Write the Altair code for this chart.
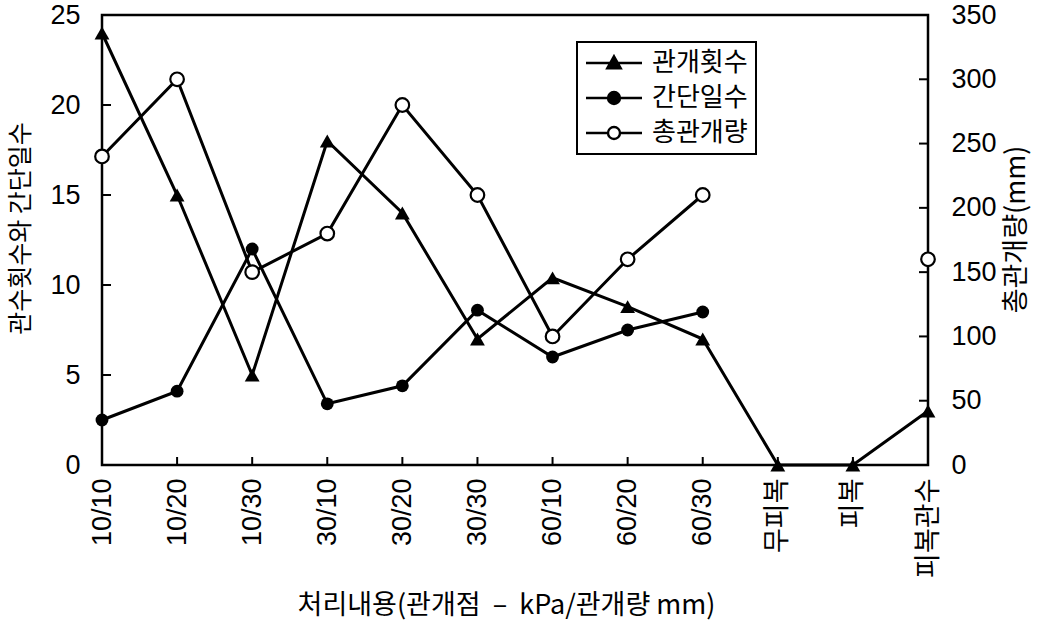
import altair as alt
import pandas as pd

# ---------------- data ----------------
categories = ["10/10", "10/20", "10/30", "30/10", "30/20", "30/30",
              "60/10", "60/20", "60/30", "무피복", "피복", "피복관수"]
irrigation_count = [24, 15, 5, 18, 14, 7, 10.4, 8.8, 7, 0, 0, 3]          # 관개횟수
interval_days = [2.5, 4.1, 12, 3.4, 4.4, 8.6, 6.0, 7.5, 8.5, None, None, None]  # 간단일수
total_irrigation = [240, 300, 150, 180, 280, 210, 100, 160, 210, None, None, 160]  # 총관개량 (mm)
total_segment = ["a", "a", "a", "a", "a", "a", "a", "a", "a", "x", "x", "b"]
series_names = ["관개횟수", "간단일수", "총관개량"]
left_values = [0, 5, 10, 15, 20, 25]
right_values = [0, 50, 100, 150, 200, 250, 300, 350]
left_ticks = [5, 10, 15, 20]
right_ticks = [50, 100, 150, 200, 250, 300]

rows = []
for c, v in zip(categories, irrigation_count):
    rows.append({"cat": c, "series": series_names[0], "value": v})
for c, v in zip(categories, interval_days):
    if v is not None:
        rows.append({"cat": c, "series": series_names[1], "value": v})
df_left = pd.DataFrame(rows)

trows = []
for c, v, s in zip(categories, total_irrigation, total_segment):
    if v is not None:
        trows.append({"cat": c, "series": series_names[2], "value": v, "seg": s})
df_total = pd.DataFrame(trows)

# ---------------- style ----------------
W, H = 826, 450
NUM_FONT = "Liberation Sans, Noto Sans CJK KR"
KR_FONT = "Noto Sans CJK KR"
NB = "\u00a0"

x_axis = alt.Axis(
    labelAngle=270, labelAlign="right", labelBaseline="middle", labelPadding=13,
    labelFont=NUM_FONT, labelFontSize=27, labelColor="black",
    ticks=False, tickSize=0, domain=False, grid=False,
    title="처리내용(관개점" + NB * 2 + "–" + NB * 2 + "kPa/관개량" + NB + "mm)",
    titleFont=KR_FONT, titleFontSize=27,
    titleFontWeight="normal", titleColor="black", titleX=404, titleY=140,
    titleAlign="center", titleBaseline="middle",
)
x_enc = alt.X("cat:N", sort=categories,
              scale=alt.Scale(type="point", domain=categories, padding=0),
              axis=x_axis)

left_scale = alt.Scale(domain=[0, 25], nice=False, zero=True)
right_scale = alt.Scale(domain=[0, 350], nice=False, zero=True)

left_axis = alt.Axis(
    values=left_values, labelFont=NUM_FONT, labelFontSize=27, labelColor="black",
    labelPadding=22, ticks=False, tickSize=0, domain=False, grid=False,
    title="관수횟수와 간단일수", titleFont=KR_FONT, titleFontSize=25,
    titleFontWeight="normal", titleColor="black", titleAngle=270,
    titleX=-82, titleY=213, titleAlign="center", titleBaseline="middle",
)
right_axis = alt.Axis(
    orient="right", values=right_values, labelFont=NUM_FONT, labelFontSize=27,
    labelColor="black", labelPadding=23, ticks=False, tickSize=0, domain=False,
    grid=False, title="총관개량(mm)", titleFont=KR_FONT, titleFontSize=27,
    titleFontWeight="normal", titleColor="black", titleAngle=270,
    titleX=88, titleY=214, titleAlign="center", titleBaseline="middle",
)

LW = 3

# ---------------- left (관개횟수, 간단일수) ----------------
base_left = alt.Chart(df_left)
line_left = base_left.mark_line(color="black", strokeWidth=LW).encode(
    x=x_enc, y=alt.Y("value:Q", scale=left_scale, axis=left_axis),
    detail="series:N",
)
tri_pts = base_left.transform_filter(
    alt.datum.series == series_names[0]
).mark_point(shape="triangle-up", filled=True, size=220, color="black", opacity=1).encode(
    x=x_enc, y=alt.Y("value:Q", scale=left_scale, axis=left_axis),
)
dot_pts = base_left.transform_filter(
    alt.datum.series == series_names[1]
).mark_point(shape="circle", filled=True, size=165, color="black", opacity=1).encode(
    x=x_enc, y=alt.Y("value:Q", scale=left_scale, axis=left_axis),
)
left_tick_rules = alt.Chart(pd.DataFrame({"t": left_ticks})).mark_rule(
    color="black", strokeWidth=2
).encode(
    y=alt.Y("t:Q", scale=left_scale, axis=left_axis),
    x=alt.value(0), x2=alt.value(9),
)
bottom_tick_rules = alt.Chart(pd.DataFrame({"cat": categories[1:-1]})).mark_rule(
    color="black", strokeWidth=2
).encode(
    x=x_enc, y=alt.value(H), y2=alt.value(H - 8),
)
left = alt.layer(line_left, tri_pts, dot_pts, left_tick_rules, bottom_tick_rules)

# ---------------- right (총관개량) ----------------
base_total = alt.Chart(df_total)
line_total = base_total.transform_filter(alt.datum.seg == "a").mark_line(
    color="black", strokeWidth=LW
).encode(
    x=x_enc, y=alt.Y("value:Q", scale=right_scale, axis=right_axis),
)
open_pts = base_total.mark_point(
    shape="circle", filled=True, fill="white", stroke="black", strokeWidth=2.2,
    size=185, opacity=1
).encode(
    x=x_enc, y=alt.Y("value:Q", scale=right_scale, axis=right_axis),
)
right_tick_rules = alt.Chart(pd.DataFrame({"t": right_ticks})).mark_rule(
    color="black", strokeWidth=2
).encode(
    y=alt.Y("t:Q", scale=right_scale, axis=right_axis),
    x=alt.value(W - 9), x2=alt.value(W),
)

legend_paths = [
    "M-5.6,0H5.6M0,-1.35L1.35,1.05H-1.35Z",
    "M-5.6,0H5.6M1.2,0A1.2,1.2,0,1,1,-1.2,0A1.2,1.2,0,1,1,1.2,0Z",
    "M-5.6,0H-1.2M1.2,0H5.6M1.2,0A1.2,1.2,0,1,1,-1.2,0A1.2,1.2,0,1,1,1.2,0Z",
]
legend_def = alt.Legend(
    orient="none", legendX=475, legendY=27, title=None,
    strokeColor="black", fillColor="white", padding=8,
    symbolOffset=16, labelOffset=25, rowPadding=9,
    labelFont=KR_FONT, labelFontSize=26, labelColor="black",
    symbolStrokeWidth=2.4, symbolSize=100,
)
legend_layer = base_total.transform_filter("false").mark_point(
    filled=False, strokeWidth=2.4, size=100, opacity=1
).encode(
    x=x_enc, y=alt.Y("value:Q", scale=right_scale, axis=right_axis),
    shape=alt.Shape("series:N", scale=alt.Scale(domain=series_names, range=legend_paths),
                    legend=legend_def),
    fill=alt.Fill("series:N", scale=alt.Scale(domain=series_names, range=["black", "black", "white"]),
                  legend=legend_def),
    stroke=alt.Stroke("series:N", scale=alt.Scale(domain=series_names, range=["black", "black", "black"]),
                      legend=legend_def),
)
right = alt.layer(line_total, open_pts, right_tick_rules, legend_layer)

chart = alt.layer(left, right).resolve_scale(y="independent").properties(
    width=W, height=H,
    autosize=alt.AutoSizeParams(type="none"),
    padding={"left": 102, "top": 15, "right": 110, "bottom": 157},
    background="white",
).configure_view(stroke="black", strokeWidth=2.5).configure_legend(strokeWidth=2)

chart.save("out.html", embed_options={"renderer": "svg", "actions": False})
